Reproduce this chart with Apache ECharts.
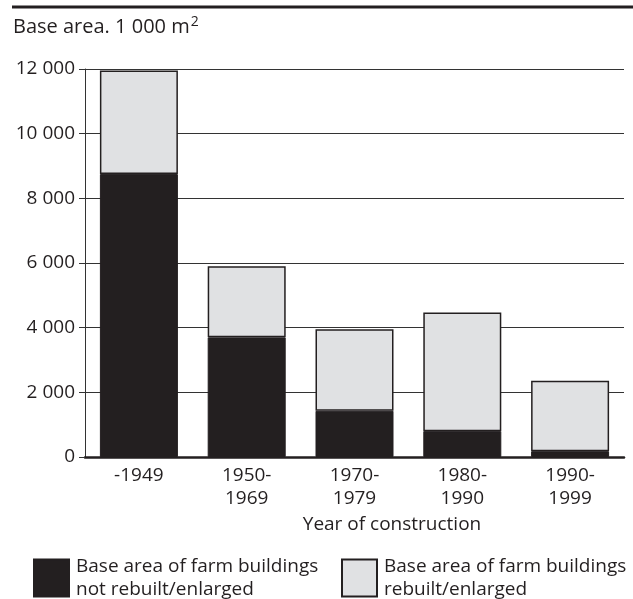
<!DOCTYPE html>
<html>
<head>
<meta charset="utf-8">
<script src="https://cdn.jsdelivr.net/npm/echarts@6/dist/echarts.min.js"></script>
<style>
  html, body { margin: 0; padding: 0; background: #fff; }
  #chart { width: 633px; height: 599px; }
</style>
</head>
<body>
<div id="chart"></div>
<script>
// categories (year of construction)
const periods = ["-1949", "1950-\n1969", "1970-\n1979", "1980-\n1990", "1990-\n1999"];
// base area, 1 000 m2
const notRebuilt = [8750, 3700, 1430, 800, 180];
const rebuilt = [3200, 2200, 2520, 3670, 2180];
const seriesNames = [
  "Base area of farm buildings\nnot rebuilt/enlarged",
  "Base area of farm buildings\nrebuilt/enlarged"
];

const FONT = "Open Sans";
const FS = 19;
const INK = "#231f20";
const GREY = "#e0e1e3";

const chart = echarts.init(document.getElementById("chart"));

function legendAt(left, name) {
  return {
    left: left, top: 555, padding: 0,
    itemWidth: 35, itemHeight: 37, itemGap: 7,
    icon: "rect",
    selectedMode: false,
    data: [name],
    textStyle: { fontSize: FS, lineHeight: 23, color: INK, fontFamily: FONT, padding: [0, 0, 0, 2] }
  };
}

const option = {
  animation: false,
  textStyle: { fontFamily: FONT, color: INK },
  grid: { left: 85, right: 9, top: 69, bottom: 142, containLabel: false },
  xAxis: {
    type: "category",
    data: periods,
    axisLine: { lineStyle: { color: INK, width: 2.5 } },
    axisTick: { show: false },
    axisLabel: {
      margin: 7,
      fontSize: FS,
      lineHeight: 23,
      color: INK,
      fontFamily: FONT
    }
  },
  yAxis: {
    type: "value",
    min: 0,
    max: 12000,
    interval: 2000,
    axisLine: { show: true, lineStyle: { color: "#333", width: 1 } },
    axisTick: { show: true, length: 6, lineStyle: { color: "#333" } },
    splitLine: { show: true, lineStyle: { color: "#333", width: 1.2 } },
    axisLabel: {
      margin: 10,
      fontSize: FS,
      color: INK,
      fontFamily: FONT,
      formatter: v => v >= 1000 ? Math.floor(v / 1000) + " " + String(v % 1000).padStart(3, "0") : String(v)
    }
  },
  legend: [legendAt(33, seriesNames[0]), legendAt(341, seriesNames[1])],
  graphic: [
    {
      type: "line",
      shape: { x1: 12, y1: 7, x2: 633, y2: 7 },
      style: { stroke: INK, lineWidth: 3 }
    },
    {
      type: "text",
      left: 13, top: 14,
      style: {
        text: "{t|Base area. 1 000 m}{s|2}",
        rich: {
          t: { fontSize: 20, fontFamily: FONT, fill: INK, lineHeight: 23, verticalAlign: "bottom" },
          s: { fontSize: 14, fontFamily: FONT, fill: INK, lineHeight: 14, verticalAlign: "top", padding: [1, 0, 0, 1] }
        }
      }
    },
    {
      type: "text",
      x: 392, y: 525,
      style: {
        text: "Year of construction",
        fontSize: FS, fontFamily: FONT, fill: INK,
        align: "center", verticalAlign: "middle"
      }
    }
  ],
  series: [
    {
      name: seriesNames[0],
      type: "bar",
      stack: "area",
      barWidth: 78,
      data: notRebuilt,
      itemStyle: { color: INK, borderColor: INK, borderWidth: 1 }
    },
    {
      name: seriesNames[1],
      type: "bar",
      stack: "area",
      barWidth: 78,
      data: rebuilt,
      itemStyle: { color: GREY, borderColor: INK, borderWidth: 1.5 }
    }
  ]
};

chart.setOption(option);
</script>
</body>
</html>
